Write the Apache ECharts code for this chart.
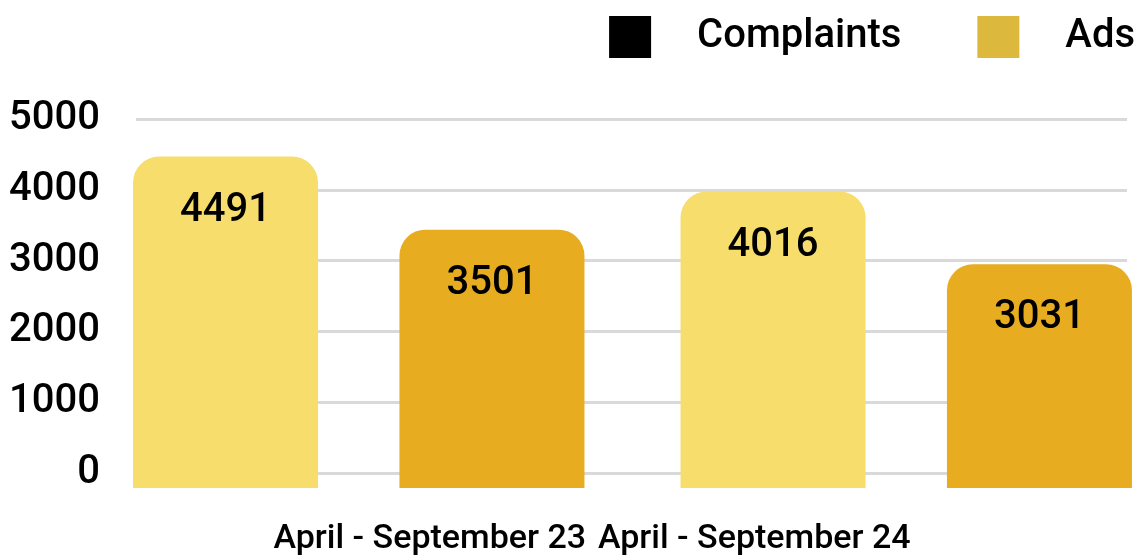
<!DOCTYPE html>
<html>
<head>
    <meta charset="utf-8">
    <script src="https://cdn.jsdelivr.net/npm/echarts@6/dist/echarts.min.js"></script>
    <title>Complaints / Ads</title>
    <style>
        html, body { margin: 0; padding: 0; background: #fff; }
    </style>
</head>
<body>
    <div id="main" style="width: 1140px;height:556px;"></div>
    <script type="text/javascript">
    var periods = ['April - September 23', 'April - September 24'];
    var complaints = [4491, 4016];
    var ads = [3501, 3031];
    var yTicks = [0, 1000, 2000, 3000, 4000, 5000];

    var lightColor = '#f7dd6b';
    var darkColor = '#e8ac21';
    var font = 'Roboto';

    var myChart = echarts.init(document.getElementById('main'));

    var barLabel = {
        show: true,
        position: 'insideTop',
        distance: 34,
        color: '#000',
        fontFamily: font,
        fontWeight: 500,
        fontSize: 40
    };

    var option = {
        animation: false,
        legend: {
            right: 0,
            top: 11,
            orient: 'horizontal',
            icon: 'rect',
            itemWidth: 42,
            itemHeight: 42,
            itemGap: 76,
            textStyle: {
                fontFamily: font,
                fontWeight: 500,
                fontSize: 40,
                color: '#000',
                padding: [0, 0, 0, 41]
            },
            data: ['Complaints', 'Ads']
        },
        grid: [
            // axis labels + gridlines
            { left: 136, right: 13, top: 119, bottom: 83, outerBoundsMode: 'none' },
            // bars (their zero sits on the axis line)
            { left: 85, right: -40, top: 119, bottom: 68, outerBoundsMode: 'none' }
        ],
        xAxis: [{
            gridIndex: 0,
            type: 'category',
            data: periods,
            offset: 15,
            axisLine: { show: true, lineStyle: { color: '#d9d9d9', width: 3 } },
            axisTick: { show: false },
            axisLabel: {
                interval: 0,
                margin: 34,
                formatter: function (v, i) {
                    return i === 0 ? '{a|' + v + '}' : '{b|' + v + '}';
                },
                rich: {
                    a: { fontFamily: font, fontWeight: 500, fontSize: 34, color: '#000', padding: [0, 0, 0, 92] },
                    b: { fontFamily: font, fontWeight: 500, fontSize: 34, color: '#000', padding: [0, 250, 0, 0] }
                }
            }
        }, {
            gridIndex: 1,
            type: 'category',
            data: periods,
            show: false
        }],
        yAxis: [{
            gridIndex: 0,
            type: 'value',
            min: yTicks[0],
            max: yTicks[yTicks.length - 1],
            interval: 1000,
            axisLine: { show: false },
            axisTick: { show: false },
            axisLabel: {
                margin: 36,
                padding: [8, 0, 0, 0],
                color: '#000',
                fontFamily: font,
                fontWeight: 500,
                fontSize: 40,
                formatter: function (v) { return String(v); }
            },
            splitLine: {
                show: true,
                showMinLine: false,
                lineStyle: { color: '#d9d9d9', width: 3 }
            }
        }, {
            gridIndex: 1,
            type: 'value',
            min: yTicks[0],
            max: yTicks[yTicks.length - 1],
            show: false,
            splitLine: { show: false }
        }],
        series: [{
            name: 'Complaints',
            type: 'bar',
            xAxisIndex: 1,
            yAxisIndex: 1,
            barWidth: 185,
            barGap: '44%',
            itemStyle: { color: '#000', borderRadius: [26, 26, 0, 0] },
            label: barLabel,
            data: complaints.map(function (v) {
                return { value: v, itemStyle: { color: lightColor } };
            })
        }, {
            name: 'Ads',
            type: 'bar',
            xAxisIndex: 1,
            yAxisIndex: 1,
            barWidth: 185,
            barGap: '44%',
            itemStyle: { color: '#dcb83d', borderRadius: [26, 26, 0, 0] },
            label: barLabel,
            data: ads.map(function (v) {
                return { value: v, itemStyle: { color: darkColor } };
            })
        }]
    };
    myChart.setOption(option);
    </script>
</body>
</html>
